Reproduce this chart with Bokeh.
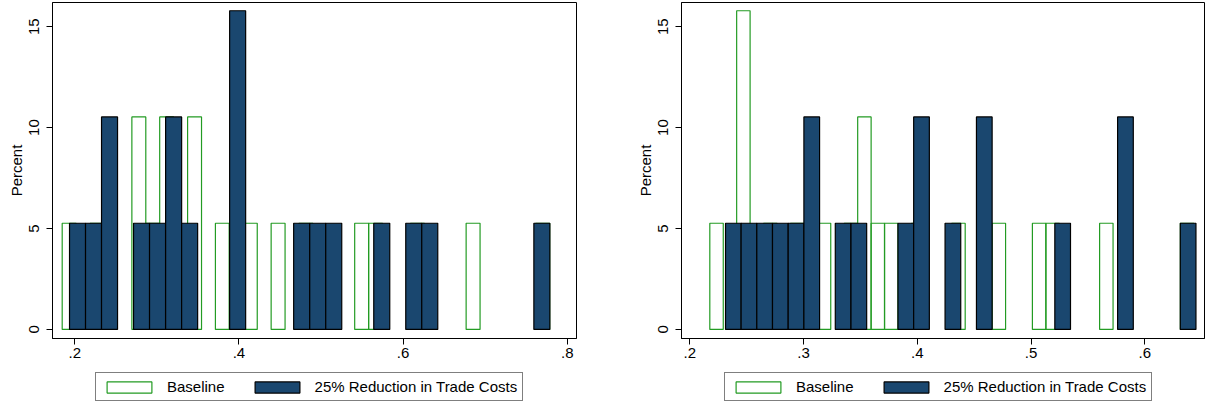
from bokeh.plotting import figure
from bokeh.layouts import row, column
from bokeh.models import (Range1d, FixedTicker, CustomJSTickFormatter, Legend,
                          LegendItem, ColumnDataSource)
from bokeh.embed import file_html
from bokeh.resources import INLINE

# ---------------- data (percent of 19 observations per bin) ----------------
series_labels = ["Baseline", "25% Reduction in Trade Costs"]

# Left panel
left_base_x = [0.1931, 0.2271, 0.2780, 0.2950, 0.3119, 0.3459, 0.3798, 0.3968,
               0.4138, 0.4477, 0.4816, 0.5495, 0.5665, 0.6175, 0.6853, 0.7701]
left_base_pct = [5.26, 5.26, 10.53, 5.26, 10.53, 10.53, 5.26, 5.26,
                 5.26, 5.26, 5.26, 5.26, 5.26, 5.26, 5.26, 5.26]
left_cut_x = [0.2033, 0.2228, 0.2423, 0.2813, 0.3008, 0.3204, 0.3399, 0.3984,
              0.4764, 0.4960, 0.5155, 0.5740, 0.6130, 0.6325, 0.7691]
left_cut_pct = [5.26, 5.26, 10.53, 5.26, 5.26, 10.53, 5.26, 15.79,
                5.26, 5.26, 5.26, 5.26, 5.26, 5.26, 5.26]

# Right panel
right_base_x = [0.2235, 0.2471, 0.2708, 0.2944, 0.3180, 0.3417, 0.3535, 0.3653,
                0.3771, 0.4008, 0.4362, 0.4717, 0.5071, 0.5190, 0.5662, 0.6372]
right_base_pct = [5.26, 15.79, 5.26, 5.26, 5.26, 5.26, 10.53, 5.26,
                  5.26, 5.26, 5.26, 5.26, 5.26, 5.26, 5.26, 5.26]
right_cut_x = [0.2383, 0.2520, 0.2658, 0.2796, 0.2934, 0.3072, 0.3348, 0.3486,
               0.3899, 0.4037, 0.4313, 0.4589, 0.5278, 0.5830, 0.6381]
right_cut_pct = [5.26, 5.26, 5.26, 5.26, 5.26, 10.53, 5.26, 5.26,
                 5.26, 10.53, 5.26, 10.53, 5.26, 10.53, 5.26]

left_xticks = [0.2, 0.4, 0.6, 0.8]
right_xticks = [0.2, 0.3, 0.4, 0.5, 0.6]
y_ticks = [0, 5, 10, 15]

# ---------------- styles ----------------
FONT = "Liberation Sans"
GREEN = "#239b23"
NAVY = "#1a476f"
BASE_STYLE = dict(fill_color="white", fill_alpha=0.0, line_color=GREEN,
                  line_width=1.2)
CUT_STYLE = dict(fill_color=NAVY, line_color="black", line_width=1.2)


def panel(base_x, base_pct, cut_x, cut_pct, base_w, cut_w, xr, xticks,
          frame_w, min_left, min_right):
    p = figure(frame_width=frame_w, frame_height=336, output_backend="svg",
               toolbar_location=None, x_range=Range1d(*xr),
               y_range=Range1d(-0.45, 16.2),
               min_border_left=min_left, min_border_right=min_right,
               min_border_top=2, min_border_bottom=28)
    p.background_fill_color = "white"
    p.border_fill_color = "white"
    p.outline_line_color = "black"
    p.outline_line_width = 1
    p.xgrid.visible = False
    p.ygrid.visible = False

    p.vbar(x="x", top="top", width=base_w, bottom=0,
           source=ColumnDataSource(dict(x=base_x, top=base_pct)), **BASE_STYLE)
    p.vbar(x="x", top="top", width=cut_w, bottom=0,
           source=ColumnDataSource(dict(x=cut_x, top=cut_pct)), **CUT_STYLE)

    for ax in (p.xaxis[0], p.yaxis[0]):
        ax.axis_line_color = "black"
        ax.major_tick_line_color = "black"
        ax.minor_tick_line_color = None
        ax.major_tick_in = 0
        ax.major_tick_out = 6
        ax.major_label_text_font = FONT
        ax.major_label_text_font_size = "15px"
        ax.major_label_text_color = "black"

    p.xaxis.ticker = FixedTicker(ticks=xticks)
    p.xaxis.formatter = CustomJSTickFormatter(
        code=r"return tick.toFixed(1).replace(/^0\./, '.');")
    p.xaxis.major_label_standoff = 3

    p.yaxis.ticker = FixedTicker(ticks=y_ticks)
    p.yaxis.major_label_orientation = "vertical"
    p.yaxis.major_label_standoff = 7
    p.yaxis.axis_label = "Percent"
    p.yaxis.axis_label_text_font = FONT
    p.yaxis.axis_label_text_font_size = "15px"
    p.yaxis.axis_label_text_font_style = "normal"
    p.yaxis.axis_label_text_color = "black"
    p.yaxis.axis_label_standoff = 2

    # legend strip beneath the panel (its frame aligns with the panel frame)
    fig_w = frame_w + min_left + min_right
    q = figure(width=fig_w, height=38, output_backend="svg",
               toolbar_location=None, x_range=Range1d(0, 1),
               y_range=Range1d(0, 1), x_axis_location=None,
               y_axis_location=None, min_border=0)
    q.outline_line_color = None
    q.background_fill_color = "white"
    q.border_fill_color = "white"
    q.xgrid.visible = False
    q.ygrid.visible = False
    g = q.vbar(x=[-5], top=[0], width=0.1, bottom=0, **BASE_STYLE)
    d = q.vbar(x=[-5], top=[0], width=0.1, bottom=0, **CUT_STYLE)
    legend = Legend(items=[LegendItem(label=series_labels[0], renderers=[g]),
                           LegendItem(label=series_labels[1], renderers=[d])],
                    orientation="horizontal", location=(43, 3))
    legend.label_text_font = FONT
    legend.label_text_font_size = "15px"
    legend.label_text_color = "black"
    legend.glyph_width = 56
    legend.glyph_height = 14
    legend.label_height = 14
    legend.label_standoff = 10
    legend.spacing = 24
    legend.padding = 5
    legend.margin = 0
    legend.border_line_color = "black"
    legend.border_line_width = 1
    legend.background_fill_color = "white"
    legend.background_fill_alpha = 1.0
    q.add_layout(legend, "center")
    return column(p, q, spacing=0)


left = panel(left_base_x, left_base_pct, left_cut_x, left_cut_pct,
             0.01697, 0.01951, (0.1728, 0.8113), left_xticks, 524, 52, 28)
right = panel(right_base_x, right_base_pct, right_cut_x, right_cut_pct,
              0.011819, 0.013787, (0.1927, 0.6525), right_xticks, 523, 77, 1)

layout = row(left, right, spacing=0)
open("out.html", "w").write(file_html(layout, INLINE))
